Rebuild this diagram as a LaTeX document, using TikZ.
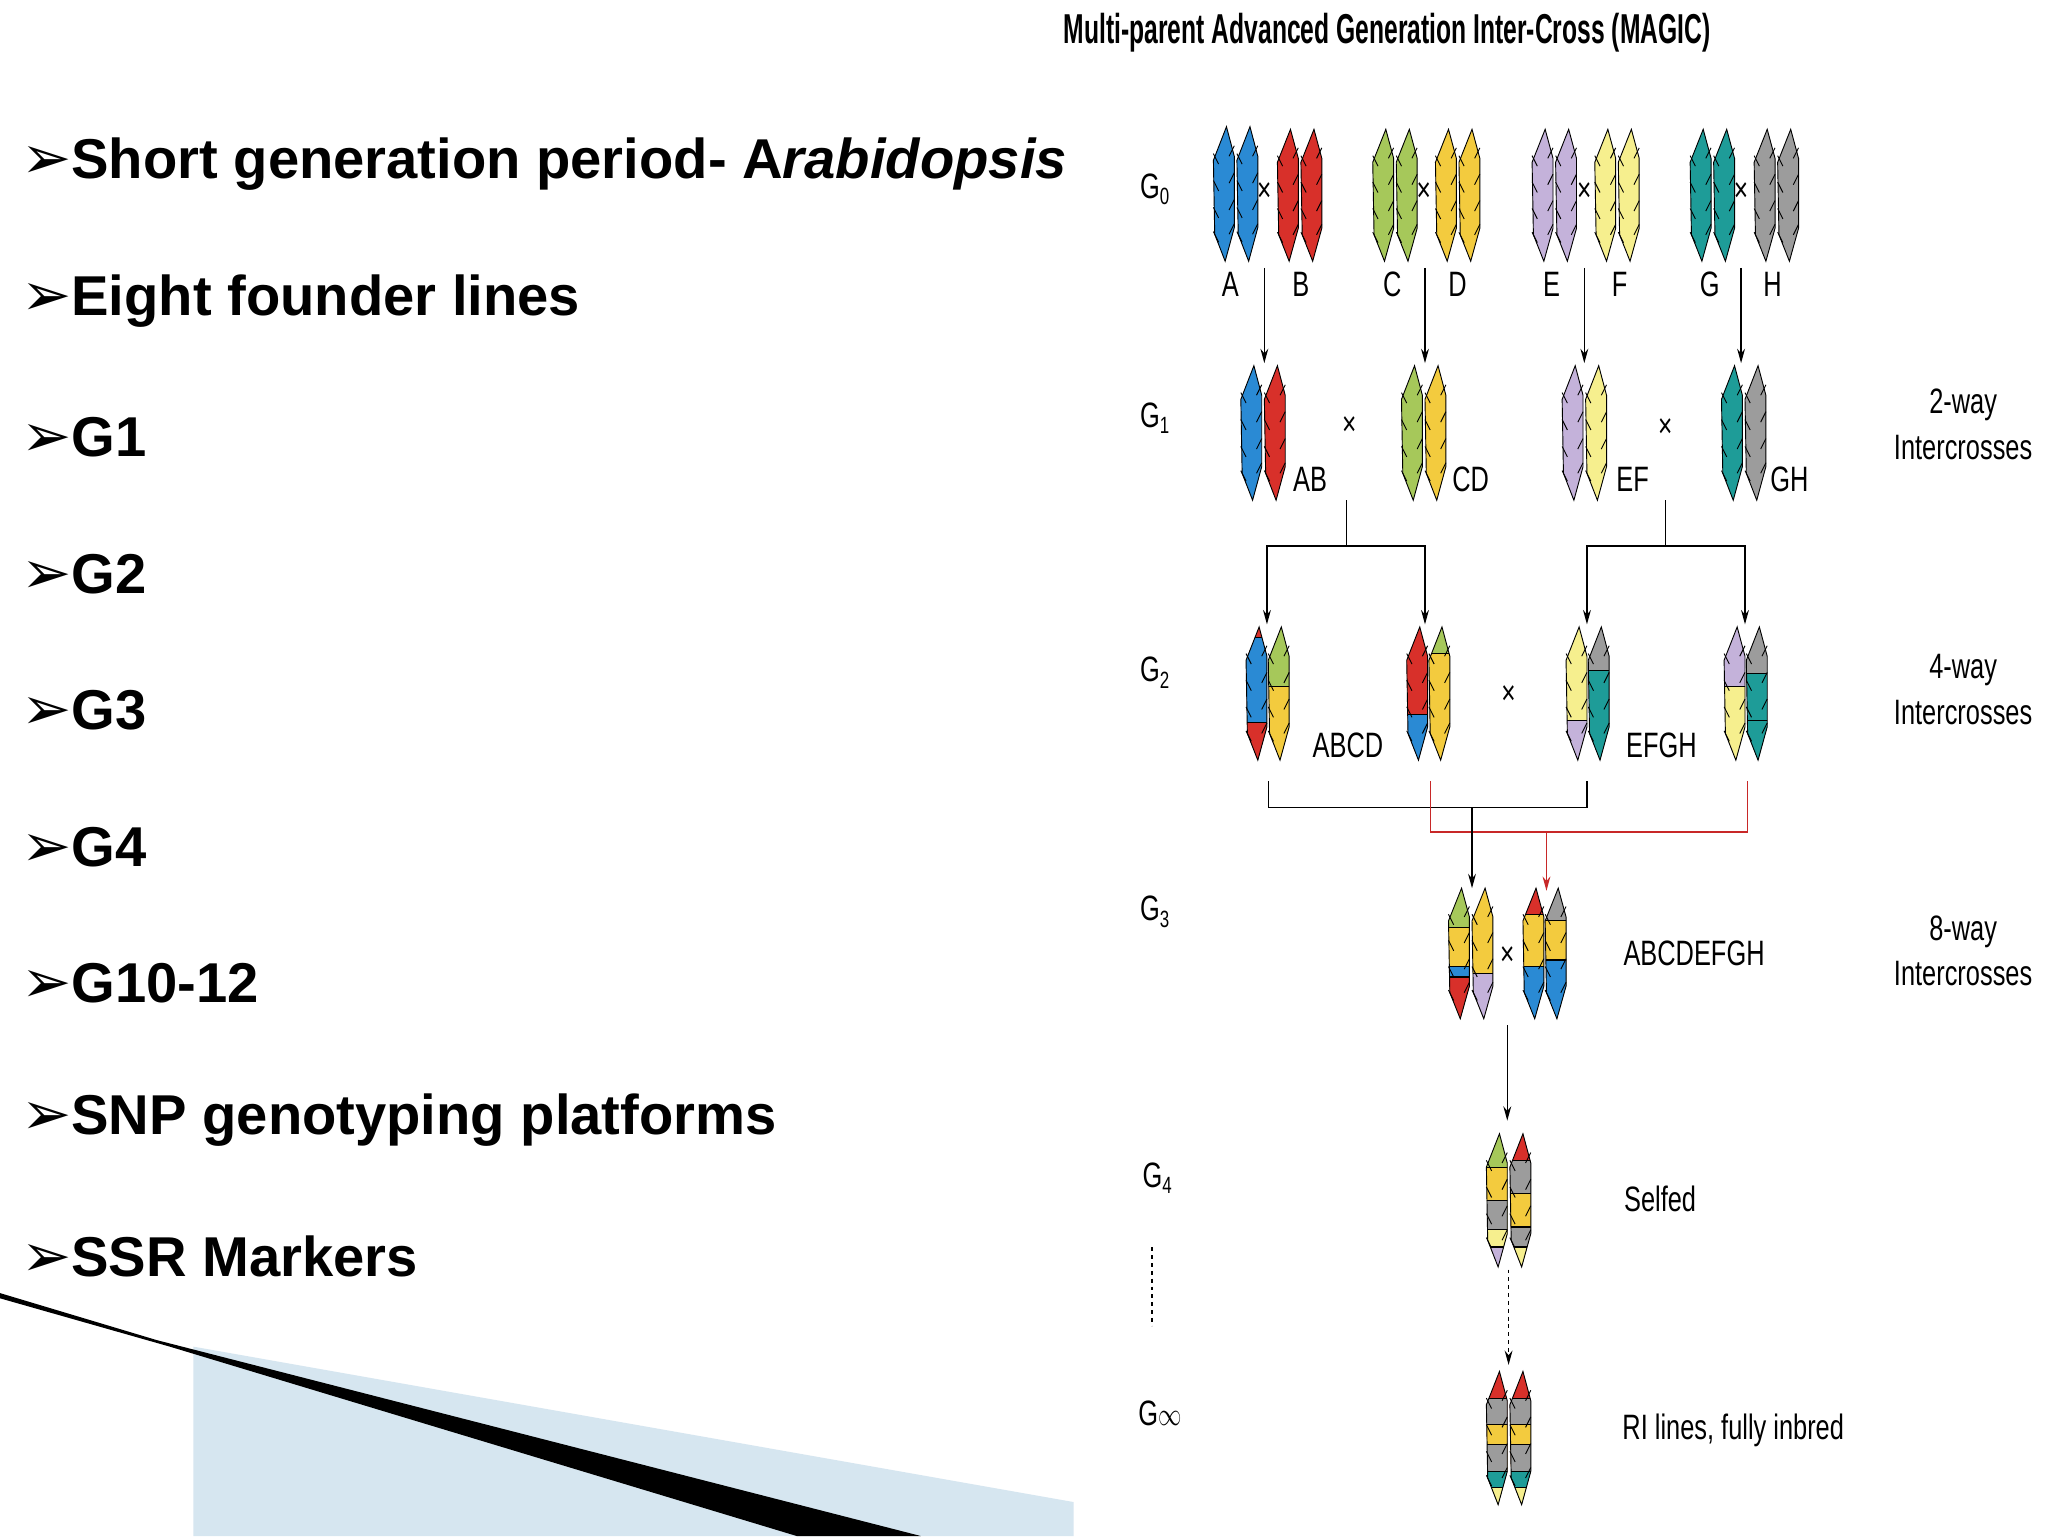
\documentclass[tikz,border=0pt]{standalone}
\usepackage{fontspec}
\setmainfont{Liberation Sans}
\newfontfamily\dejavu{DejaVu Sans}
\usetikzlibrary{arrows.meta}
\definecolor{cA}{HTML}{2A8AD4}
\definecolor{cB}{HTML}{D8302A}
\definecolor{cC}{HTML}{A6C85A}
\definecolor{cD}{HTML}{F3CB3E}
\definecolor{cE}{HTML}{C4B2DA}
\definecolor{cF}{HTML}{F6EF8E}
\definecolor{cG}{HTML}{1E9C98}
\definecolor{cH}{HTML}{9C9C9C}
\definecolor{swoosh}{HTML}{D6E6F0}
\newcommand\sx[1]{\scalebox{0.72}[1]{#1}}
\newcommand\gsub[1]{\sx{G\raisebox{-5pt}{\fontsize{18}{18}\selectfont #1}}}
\newcommand\chromatid[4]{%
 \begin{scope}
 \pgfmathsetmacro\Lc{#3-#2}
 \begin{scope}
 \clip ({#1+2},#2) -- ({#1+8},{#2+0.22*\Lc}) -- ({#1+8},{#2+0.75*\Lc}) -- ({#1+1},#3) -- ({#1-7},{#2+0.8*\Lc}) -- ({#1-8},{#2+0.25*\Lc}) -- cycle;
 \foreach \f/\c in {#4}{\fill[\c] ({#1-10},{#2+\f*\Lc}) rectangle ({#1+10},#3);
   \draw[line width=0.8pt] ({#1-10},{#2+\f*\Lc}) -- ({#1+10},{#2+\f*\Lc});}
 \end{scope}
 \draw[line width=0.7pt] ({#1+2},#2) -- ({#1+8},{#2+0.22*\Lc}) -- ({#1+8},{#2+0.75*\Lc}) -- ({#1+1},#3) -- ({#1-7},{#2+0.8*\Lc}) -- ({#1-8},{#2+0.25*\Lc}) -- cycle;
 \foreach \k in {0.2,0.4,0.6,0.78}{
   \draw[line width=0.7pt] ({#1-8},{#2+\k*\Lc}) -- ({#1-4},{#2+\k*\Lc+8});
   \draw[line width=0.7pt] ({#1+8},{#2+\k*\Lc-6}) -- ({#1+4},{#2+\k*\Lc+2});}
 \end{scope}}
\tikzset{
 lab/.style={font=\fontsize{27}{27}\selectfont},
 gen/.style={font=\fontsize{27}{27}\selectfont},
 cross/.style={font=\fontsize{26}{26}\selectfont},
 arr/.style={line width=1pt,-{Stealth[length=11pt,width=6pt]}},
 ln/.style={line width=1pt},
 rln/.style={line width=1pt,draw={rgb,255:red,200;green,40;blue,40}},
 bullet/.style={anchor=west,font=\fontsize{43}{43}\selectfont\bfseries}
}
\begin{document}
\begin{tikzpicture}[x=1pt,y=-1pt]
\path[use as bounding box,fill=white] (0,0) rectangle (1568,1176);
% swoosh
\fill[swoosh] (148,1031) -- (822,1150) -- (822,1176) -- (148,1176) -- cycle;
\fill[black] (0,990) -- (120,1026) -- (705,1176) -- (610,1176) -- (130,1031) -- (0,994) -- cycle;
% bullets
\foreach \t [count=\i from 0] in {{Short generation period- A\textit{rabidopsis}},{Eight founder lines},G1,G2,G3,G4,G10-12,{SNP genotyping platforms},{SSR Markers}}{
 \node[bullet,inner sep=0pt] (b\i) at (16,{126+104.5*\i}) {{\dejavu\fontsize{46}{46}\selectfont ➢}\t};
}
% title
\node (title) at (1062,25) {\fontsize{32}{32}\selectfont\scalebox{0.59}[1]{\textbf{Multi-parent Advanced Generation Inter-Cross (MAGIC)}}};
% generation labels
\node[gen] (g0) at (884,145) {\gsub{0}};
\node[gen] (g1) at (884,320) {\gsub{1}};
\node[gen] (g2) at (884,515) {\gsub{2}};
\node[gen] (g3) at (884,698) {\gsub{3}};
\node[gen] (g4) at (886,902) {\gsub{4}};
\node[gen] (ginf) at (888,1082) {\sx{G$\infty$}};
\draw[dashed,line width=0.8pt] (882,955) -- (882,1015);
% right labels
\node[lab,align=center] (r1) at (1503,325) {\sx{2-way}\\[8pt]\sx{Intercrosses}};
\node[lab,align=center] (r2) at (1503,528) {\sx{4-way}\\[8pt]\sx{Intercrosses}};
\node[lab,align=center] (r3) at (1503,728) {\sx{8-way}\\[8pt]\sx{Intercrosses}};
% G0
\chromatid{937}{97}{200}{0/cA}\chromatid{955}{97}{200}{0/cA}
\chromatid{986}{99}{200}{0/cB}\chromatid{1004}{99}{200}{0/cB}
\chromatid{1059}{99}{200}{0/cC}\chromatid{1077}{99}{200}{0/cC}
\chromatid{1107}{99}{200}{0/cD}\chromatid{1125}{99}{200}{0/cD}
\chromatid{1181}{99}{200}{0/cE}\chromatid{1199}{99}{200}{0/cE}
\chromatid{1229}{99}{200}{0/cF}\chromatid{1247}{99}{200}{0/cF}
\chromatid{1302}{99}{200}{0/cG}\chromatid{1320}{99}{200}{0/cG}
\chromatid{1351}{99}{200}{0/cH}\chromatid{1369}{99}{200}{0/cH}
\foreach \x in {968,1090,1213,1333}{\node[cross] at (\x,147) {\sx{×}};}
\foreach \l/\x in {A/942,B/996,C/1066,D/1116,E/1188,F/1240,G/1309,H/1357}{\node[lab] (n\l) at (\x,218) {\sx{\l}};}
\foreach \x in {968,1091,1213,1333}{\draw[arr] (\x,205) -- (\x,278);}
% G1
\chromatid{958}{280}{383}{0/cA}\chromatid{976}{280}{383}{0/cB}
\chromatid{1081}{280}{383}{0/cC}\chromatid{1099}{280}{383}{0/cD}
\chromatid{1204}{280}{383}{0/cE}\chromatid{1222}{280}{383}{0/cF}
\chromatid{1326}{280}{383}{0/cG}\chromatid{1344}{280}{383}{0/cH}
\node[lab] (ab) at (1003,367) {\sx{AB}};
\node[lab] (cd) at (1126,367) {\sx{CD}};
\node[lab] (ef) at (1250,367) {\sx{EF}};
\node[lab] (gh) at (1370,367) {\sx{GH}};
\node[cross] at (1033,326) {\sx{×}};
\node[cross] at (1275,328) {\sx{×}};
\draw[ln] (1031,383) -- (1031,418);
\draw[ln] (1275,383) -- (1275,418);
\draw[arr] (1031,418) -| (970,478);
\draw[arr] (1031,418) -| (1091,478);
\draw[arr] (1275,418) -| (1215,478);
\draw[arr] (1275,418) -| (1336,478);
% G2
\chromatid{962}{480}{582}{0/cB,0.08/cA,0.72/cB}\chromatid{979}{480}{582}{0/cC,0.45/cD}
\chromatid{1085}{480}{582}{0/cB,0.66/cA}\chromatid{1102}{480}{582}{0/cC,0.2/cD}
\chromatid{1207}{480}{582}{0/cF,0.7/cE}\chromatid{1224}{480}{582}{0/cH,0.33/cG}
\chromatid{1328}{480}{582}{0/cE,0.45/cF}\chromatid{1345}{480}{582}{0/cH,0.35/cG,0.7/cG}
\node[lab] (abcd) at (1032,571) {\sx{ABCD}};
\node[lab] (efgh) at (1272,571) {\sx{EFGH}};
\node[cross] at (1155,532) {\sx{×}};
\draw[ln] (971,598) -- (971,618) -- (1215,618) -- (1215,598);
\draw[rln] (1095,598) -- (1095,637) -- (1338,637) -- (1338,598);
\draw[arr] (1127,618) -- (1127,680);
\draw[arr,draw={rgb,255:red,200;green,40;blue,40},fill={rgb,255:red,200;green,40;blue,40}] (1184,637) -- (1184,682);
% G3
\chromatid{1117}{680}{780}{0/cC,0.3/cD,0.6/cA,0.68/cB}\chromatid{1135}{680}{780}{0/cD,0.65/cE}
\chromatid{1174}{680}{780}{0/cB,0.2/cD,0.6/cA}\chromatid{1191}{680}{780}{0/cH,0.25/cD,0.55/cA}
\node[cross] at (1154,732) {\sx{×}};
\node[lab] (abcdefgh) at (1297,730) {\sx{ABCDEFGH}};
\draw[arr] (1154,785) -- (1154,858);
% G4
\chromatid{1146}{868}{970}{0/cC,0.25/cD,0.5/cH,0.72/cF,0.85/cE}\chromatid{1164}{868}{970}{0/cB,0.2/cH,0.45/cD,0.7/cH,0.85/cF}
\node[lab] (selfed) at (1271,918) {\sx{Selfed}};
\draw[arr,dashed] (1155,972) -- (1155,1045);
% Ginf
\chromatid{1146}{1050}{1152}{0/cB,0.2/cH,0.4/cD,0.55/cH,0.75/cG,0.87/cF}\chromatid{1164}{1050}{1152}{0/cB,0.2/cH,0.4/cD,0.55/cH,0.75/cG,0.87/cF}
\node[lab] (ri) at (1327,1095) {\sx{RI lines, fully inbred}};
\end{tikzpicture}
\end{document}
